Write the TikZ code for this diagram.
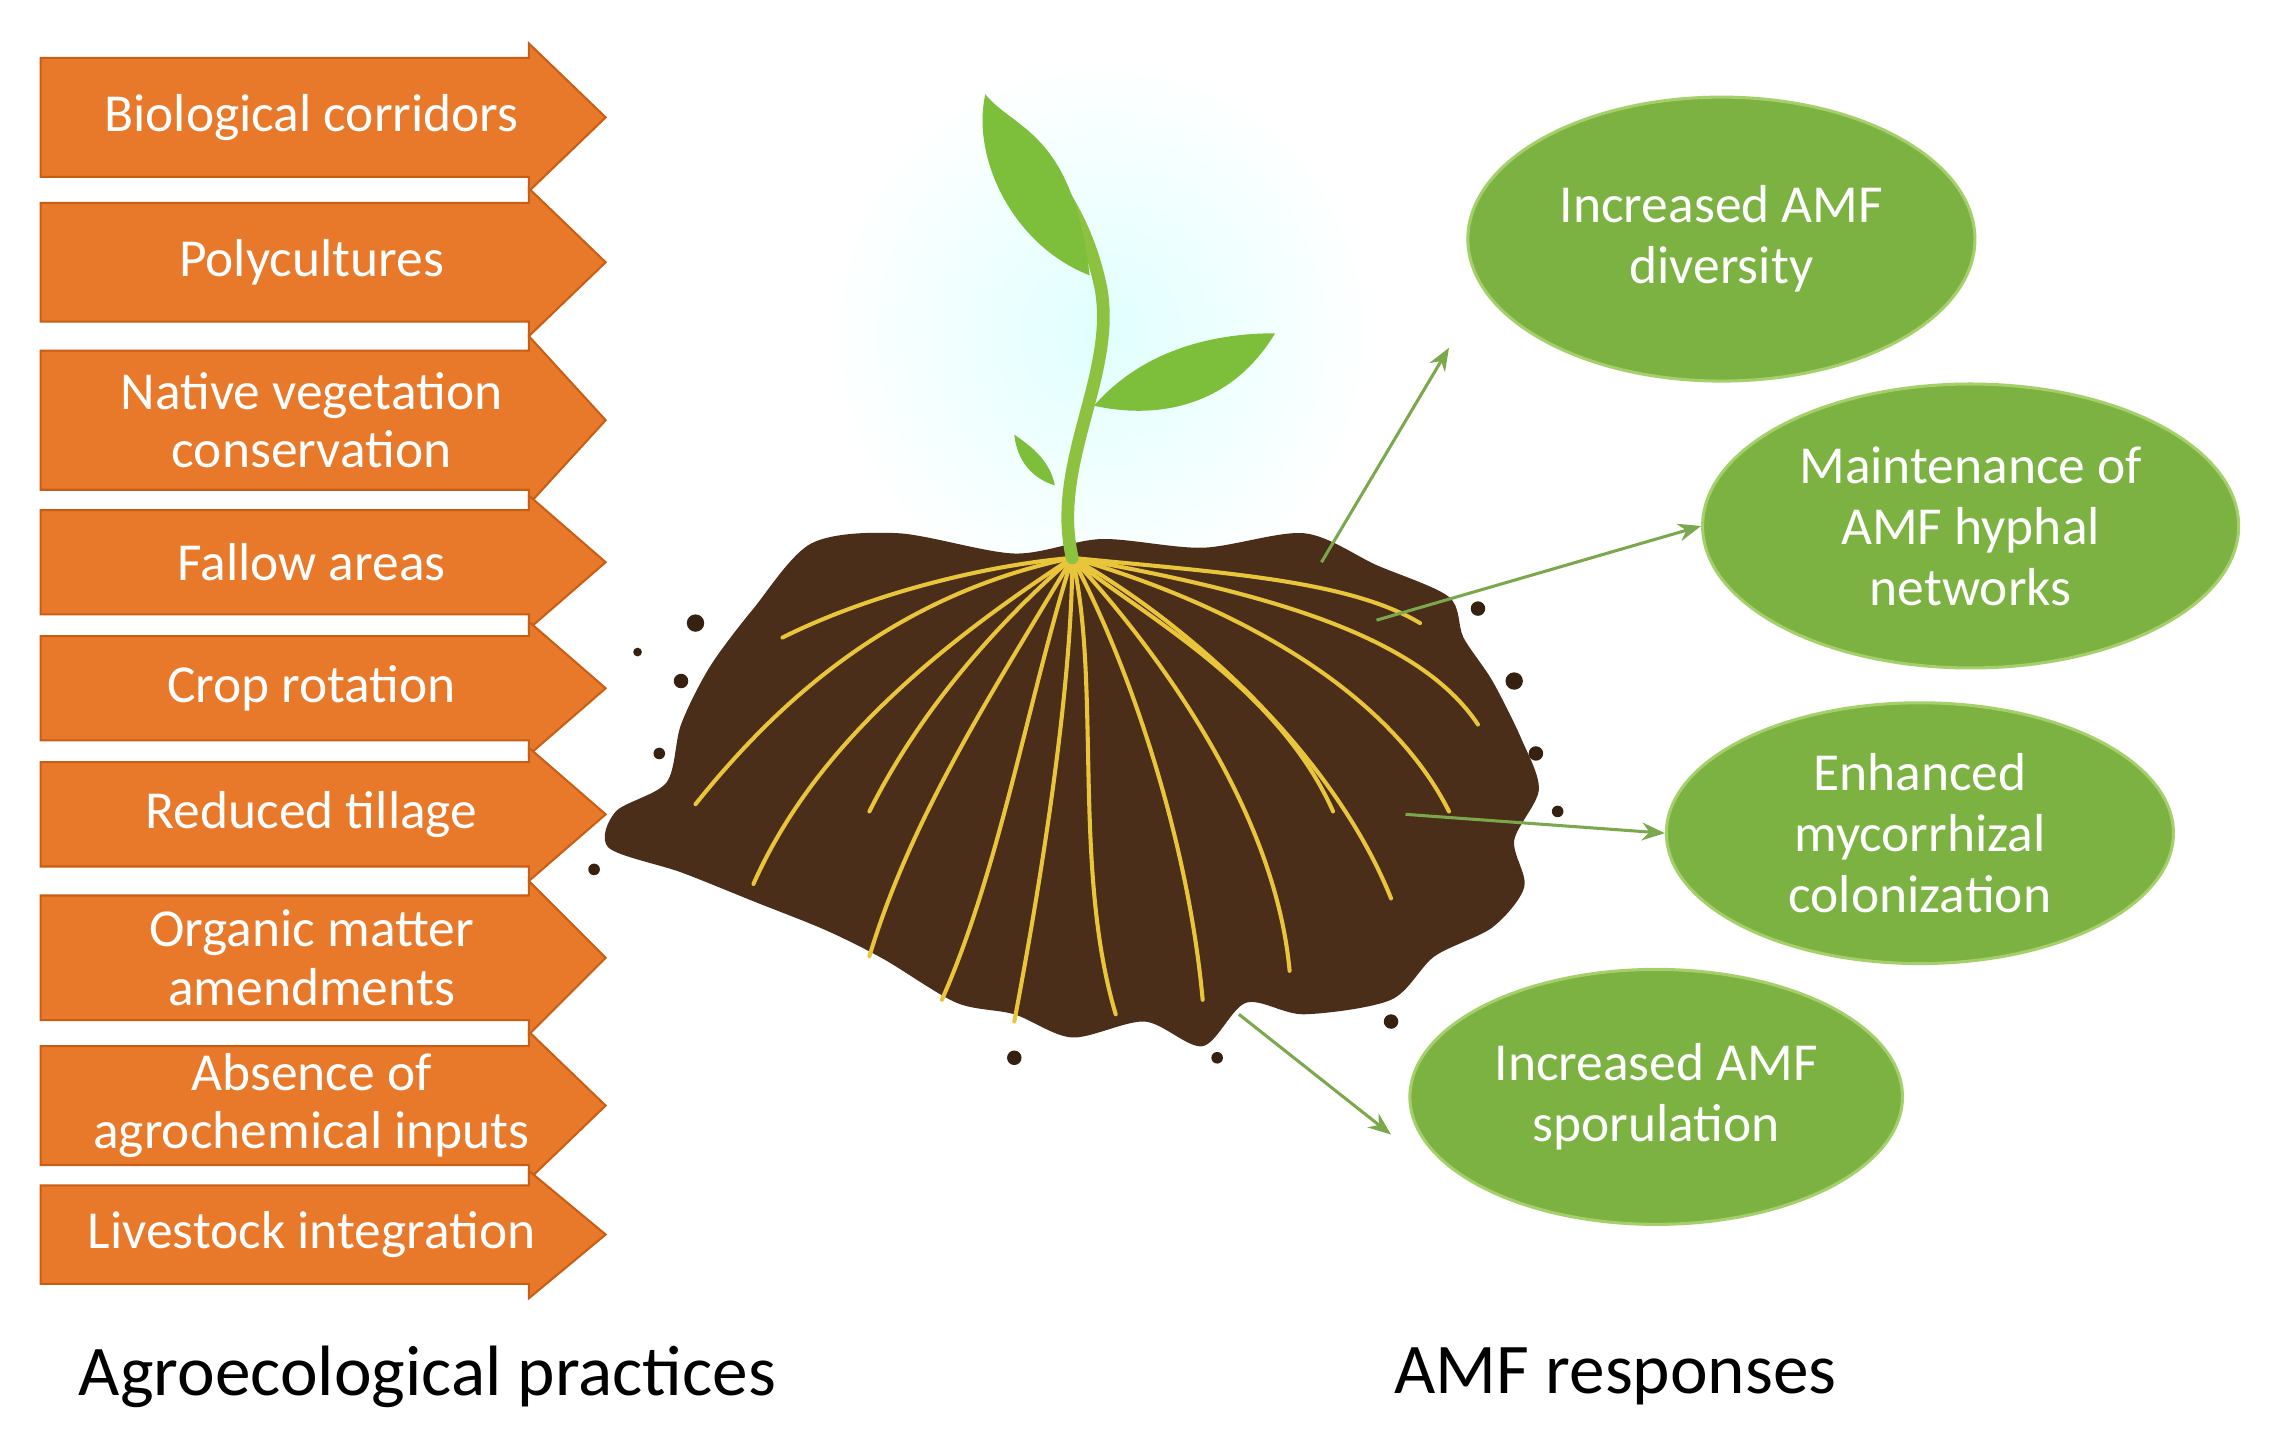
\documentclass[tikz,border=0pt]{standalone}
\usepackage{fontspec}
\setmainfont{Carlito}
\usetikzlibrary{shapes.geometric,arrows.meta}
\definecolor{org}{HTML}{E8792A}
\definecolor{orgd}{HTML}{C85E14}
\definecolor{grn}{HTML}{7BB241}
\definecolor{grnl}{HTML}{A5CF6A}
\definecolor{soil}{HTML}{4A2E1A}
\definecolor{soild}{HTML}{36200F}
\definecolor{root}{HTML}{E9C53C}
\definecolor{stem}{HTML}{8CC23F}
\definecolor{leaf}{HTML}{7DBE3A}
\tikzset{
 ptxt/.style={text=white,font=\fontsize{21}{23}\selectfont,align=center},
 resp/.style={ellipse,fill=grn,draw=grnl,line width=1.2pt,text=white,font=\fontsize{21}{24}\selectfont,align=center,inner sep=0pt},
 garr/.style={draw=grn!80!gray,line width=1.2pt,-{Stealth[length=9pt,width=7pt]}},
 rt/.style={draw=root,line width=1.6pt,line cap=round},
 lbl/.style={font=\fontsize{28}{30}\selectfont,text=black}
}
\newcommand\practice[4]{% name, center y, half height, text
 \fill[org,draw=orgd,line width=0.8pt] (28,#2-#3) -- (365,#2-#3) -- (365,#2-#3-10) -- (418,#2) -- (365,#2+#3+10) -- (365,#2+#3) -- (28,#2+#3) -- cycle;
 \node[ptxt] (#1) at (215,#2) {#4};}
\begin{document}
\begin{tikzpicture}[x=0.02cm,y=-0.02cm]
\useasboundingbox (0,0) rectangle (1568,998);
\fill[white] (0,0) rectangle (1568,998);
% glow
\shade[inner color=cyan!12,outer color=white] (760,230) circle (190);
% practices
\practice{p1}{81}{41}{Biological corridors}
\practice{p2}{181}{41}{Polycultures}
\practice{p3}{290}{48}{Native vegetation\\conservation}
\practice{p4}{388}{36}{Fallow areas}
\practice{p5}{475}{36}{Crop rotation}
\practice{p6}{562}{36}{Reduced tillage}
\practice{p7}{661}{43}{Organic matter\\amendments}
\practice{p8}{763}{41}{Absence of\\agrochemical inputs}
\practice{p9}{852}{34}{Livestock integration}
% soil
\fill[soil] plot[smooth cycle,tension=0.5] coordinates {(560,375) (620,368) (700,382) (760,372) (830,378) (900,368) (950,390) (1000,412) (1010,440) (1030,470) (1050,510) (1062,545) (1045,580) (1052,612) (1030,640) (990,660) (960,690) (900,700) (860,692) (830,722) (790,705) (740,716) (700,700) (660,692) (610,662) (570,642) (520,622) (470,602) (420,585) (425,560) (460,540) (470,500) (490,460) (520,420)};
\foreach \x/\y/\r in {480/430/6,470/470/5,455/520/4,1045/470/6,1060/520/5,1075/560/4,1020/420/5,700/730/5,840/730/4,960/705/5,410/600/4,440/450/3}
 \fill[soild] (\x,\y) circle (\r);
% roots
\coordinate (rb) at (740,385);
\foreach \a/\b/\e/\f/\c/\d in {620/410/540/480/480/555, 640/450/560/520/520/610, 690/470/630/560/600/660, 710/480/690/600/650/690, 740/470/720/600/700/705, 760/470/740/600/770/700, 780/460/820/580/830/690, 800/450/880/560/890/670, 820/430/920/520/960/620, 860/420/960/480/1000/560, 880/410/980/440/1020/500, 840/395/930/400/980/430, 680/390/600/410/540/440, 700/420/640/480/600/560, 780/420/880/470/920/560}
 \draw[rt] (rb) .. controls (\a,\b) and (\e,\f) .. (\c,\d);
% stem and leaves
\draw[stem,line width=5pt,line cap=round] (740,385) .. controls (725,320) and (770,260) .. (760,200) .. controls (752,160) and (735,130) .. (705,95);
\fill[leaf] (680,65) .. controls (700,90) and (740,90) .. (752,190) .. controls (700,170) and (670,110) .. (680,65) -- cycle;
\fill[leaf] (755,280) .. controls (790,240) and (840,230) .. (880,230) .. controls (850,280) and (800,290) .. (755,280) -- cycle;
\fill[leaf] (700,300) .. controls (715,310) and (725,320) .. (728,335) .. controls (712,330) and (702,318) .. (700,300) -- cycle;
% responses
\node[resp,minimum width=7cm,minimum height=3.92cm] (r1) at (1188,165) {Increased AMF\\diversity};
\node[resp,minimum width=7.4cm,minimum height=3.92cm] (r2) at (1360,363) {Maintenance of\\AMF hyphal\\networks};
\node[resp,minimum width=7cm,minimum height=3.6cm] (r3) at (1325,575) {Enhanced\\mycorrhizal\\colonization};
\node[resp,minimum width=6.8cm,minimum height=3.52cm] (r4) at (1143,757) {Increased AMF\\sporulation};
\coordinate (s1) at (912,388); \coordinate (s2) at (950,428);
\coordinate (s3) at (970,562); \coordinate (s4) at (855,700);
\coordinate (e1) at (1000,240); \coordinate (e4) at (960,783);
\draw[garr] (s1) -- (e1);
\draw[garr] (s2) -- (r2.west);
\draw[garr] (s3) -- (r3.west);
\draw[garr] (s4) -- (e4);
% labels
\node[lbl] (l1) at (295,950) {Agroecological practices};
\node[lbl] (l2) at (1115,950) {AMF responses};
\end{tikzpicture}
\end{document}
